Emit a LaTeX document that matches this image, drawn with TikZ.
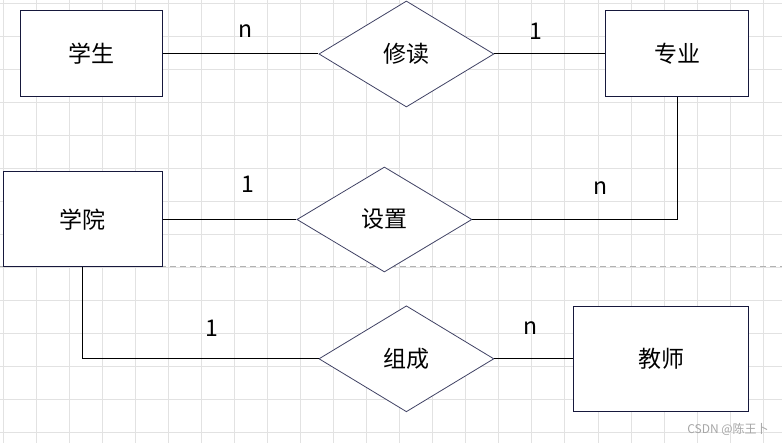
\documentclass[tikz,border=0pt]{standalone}
\usepackage{fontspec}
\setmainfont{Noto Sans CJK SC}
\usepackage{tikz}
\usetikzlibrary{positioning,shapes.geometric}
\definecolor{boxline}{RGB}{22,24,60}
\definecolor{dialine}{RGB}{64,66,100}
\definecolor{gridcol}{RGB}{226,226,226}
\tikzset{
  entity/.style   ={draw=boxline,line width=1pt,fill=white,align=center,inner sep=0pt,font=\fontsize{23}{27}\selectfont},
  relation/.style ={draw=dialine,line width=0.8pt,diamond,fill=white,align=center,inner sep=0pt,
                    minimum width=175pt,minimum height=106pt,font=\fontsize{23}{27}\selectfont},
  link/.style     ={draw=black,line width=1pt},
  card/.style     ={inner sep=0pt,font=\fontsize{23}{27}\selectfont},
  gridline/.style ={draw=gridcol,line width=0.8pt},
  sepline/.style  ={draw=black!30,line width=1pt,dash pattern=on 6pt off 4pt}
}

\begin{document}
\begin{tikzpicture}[x=1pt,y=-1pt]
    \useasboundingbox[fill=white] (0,0) rectangle (782,443);
    % grid
    \foreach \i in {0,...,23} \draw[gridline] ({3+33.05*\i},0) -- ({3+33.05*\i},443);
    \foreach \j in {0,...,13} \draw[gridline] (0,{3+33.05*\j}) -- (782,{3+33.05*\j});
    \draw[sepline] (0,267) -- (782,267);
    % entities and relations
    \node[entity,minimum width=142pt,minimum height=86pt] (xs) at (91,54) {学生};
    \node[relation,right=156pt of xs] (xd) {修读};
    \node[entity,minimum width=143pt,minimum height=86pt,right=111pt of xd] (zy) {专业};
    \node[entity,minimum width=159pt,minimum height=95pt] (xy) at (82.5,219.5) {学院};
    \node[relation,minimum height=105pt,right=134pt of xy] (sz) {设置};
    \node[relation,below=198pt of xd] (zc) {组成};
    \node[entity,minimum width=175pt,minimum height=105pt,right=79pt of zc] (js) {教师};
    % connectors
    \draw[link] (xs) -- (xd);
    \draw[link] (xd) -- (zy);
    \draw[link] (zy.south) |- (sz.east);
    \draw[link] (xy) -- (sz);
    \draw[link] (xy.south) |- (zc.west);
    \draw[link] (zc) -- (js);
    % cardinalities
    \node[card] (n1) at (246,31) {n};
    \node[card] (n2) at (536,31) {1};
    \node[card] (n3) at (248,184) {1};
    \node[card] (n4) at (601,188) {n};
    \node[card] (n5) at (212,328) {1};
    \node[card] (n6) at (531,328) {n};
    \node[text=black!35,font=\fontsize{12}{14}\selectfont] (wm) at (728,429) {CSDN @陈王卜};
  \end{tikzpicture}
\end{document}
